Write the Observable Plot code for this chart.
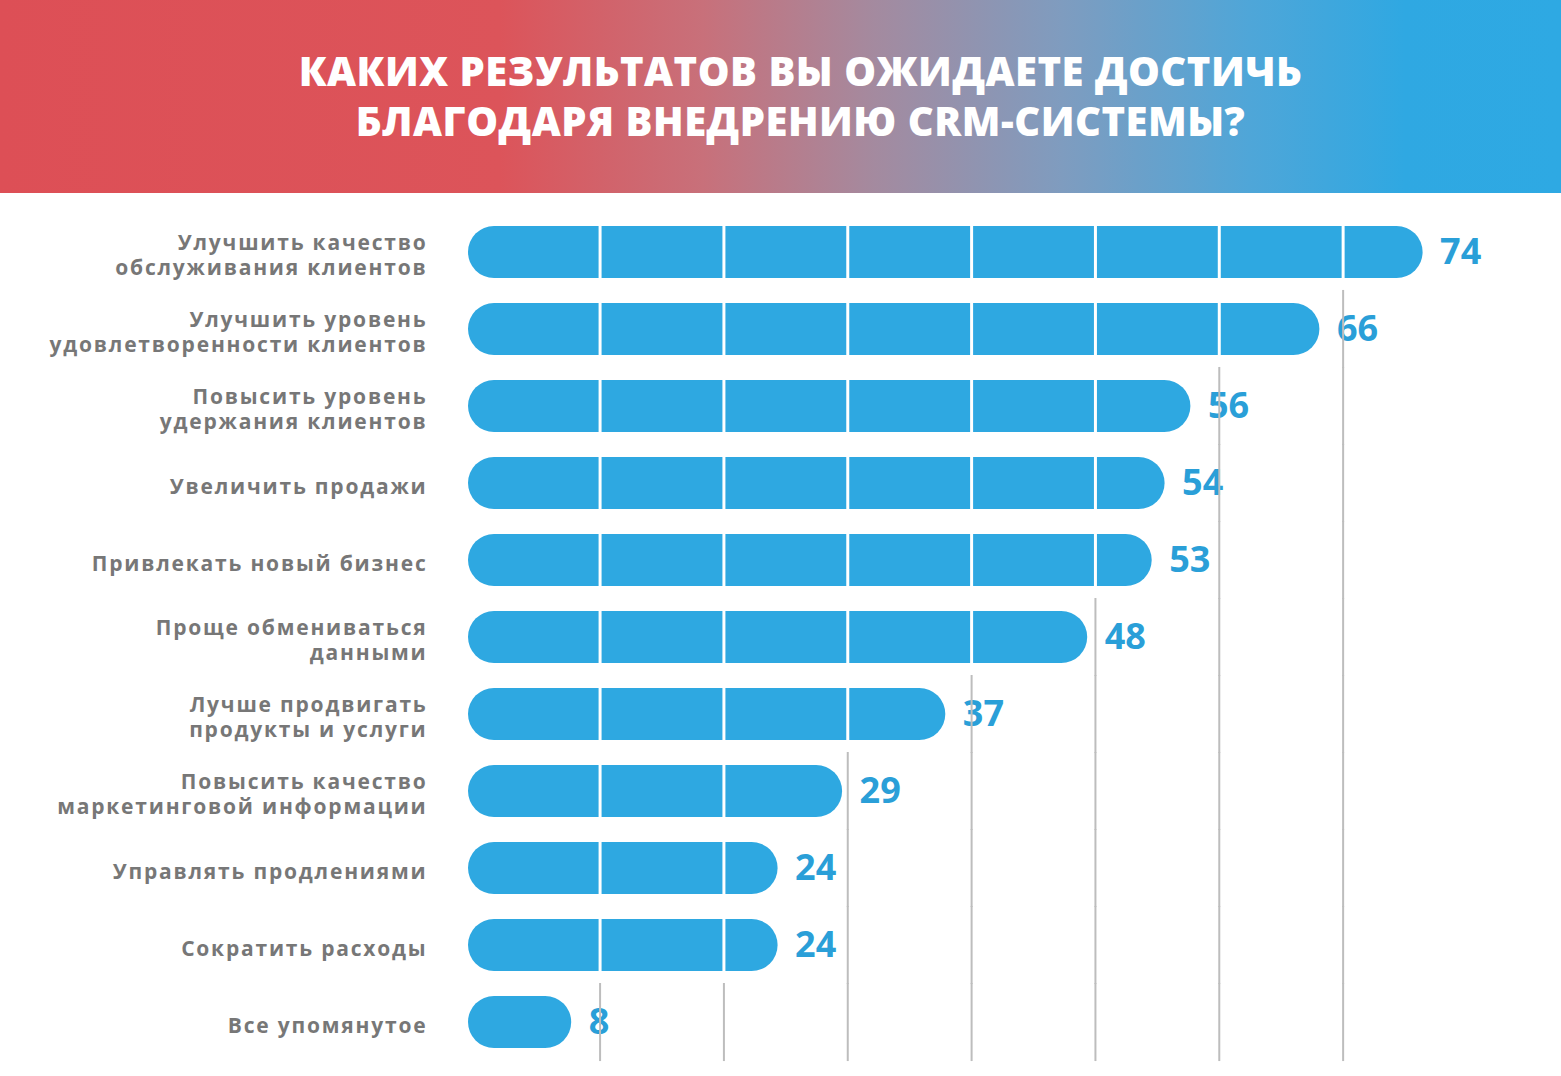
<!DOCTYPE html>
<html>
<head>
<meta charset="utf-8">
<script src="https://cdn.jsdelivr.net/npm/d3@7"></script>
<script src="https://cdn.jsdelivr.net/npm/@observablehq/plot@0.6"></script>
<style>
  html, body { margin: 0; padding: 0; background: #fff; }
  .header {
    width: 1561px; height: 193px;
    background: linear-gradient(90deg, #dd4f56 0%, #dc545a 32%, #c8707a 45%, #a48a9f 56%, #7f9cbf 68%, #4fa6d8 80%, #2fa8e2 90%, #2ea9e3 100%);
    display: flex; align-items: center; justify-content: center;
    color: #fff; font-family: "Open Sans", sans-serif; font-weight: 800;
    font-size: 40px; line-height: 50px; text-align: center; letter-spacing: 0.5px;
    box-sizing: border-box; padding-left: 40px; padding-bottom: 2px;
  }
  #chart svg { display: block; }
</style>
</head>
<body>
<div class="header"><div>КАКИХ РЕЗУЛЬТАТОВ ВЫ ОЖИДАЕТЕ ДОСТИЧЬ<br>БЛАГОДАРЯ ВНЕДРЕНИЮ CRM-СИСТЕМЫ?</div></div>
<div id="chart"></div>
<script>
const categories = [
  "Улучшить качество\nобслуживания клиентов",
  "Улучшить уровень\nудовлетворенности клиентов",
  "Повысить уровень\nудержания клиентов",
  "Увеличить продажи",
  "Привлекать новый бизнес",
  "Проще обмениваться\nданными",
  "Лучше продвигать\nпродукты и услуги",
  "Повысить качество\nмаркетинговой информации",
  "Управлять продлениями",
  "Сократить расходы",
  "Все упомянутое"
];
const values = [74, 66, 56, 54, 53, 48, 37, 29, 24, 24, 8];
const gridTicks = [10.2, 19.8, 29.4, 39, 48.6, 58.2, 67.8];

const rows = categories.map((c, i) => ({cat: c, value: values[i]}));
const cross = rows.flatMap(r => gridTicks.map(t => ({cat: r.cat, value: r.value, tick: t})));

const chart = Plot.plot({
  width: 1561,
  height: 883,
  margin: 0,
  style: {fontFamily: "'Open Sans', sans-serif", background: "#fff"},
  x: {domain: [0, 84], range: [468, 468 + 84 * 12.9], axis: null},
  y: {domain: categories, range: [8, 880], padding: 0.324, round: false, axis: null},
  marks: [
    Plot.barX(rows, {x: "value", y: "cat", fill: "#2ea8e1", rx: 26, ry: 26}),
    Plot.tickX(cross.filter(d => d.value > d.tick), {x: "tick", y: "cat", stroke: "#ffffff", strokeWidth: 3}),
    Plot.text(rows, {x: 0, y: "cat", text: "cat", textAnchor: "end", dx: -41, dy: 2, fill: "#777777", fontSize: 21, fontWeight: "bold", lineHeight: 1.2}),
    Plot.text(rows, {x: "value", y: "cat", text: d => String(d.value), textAnchor: "start", dx: 17, fill: "#2a9fd8", fontSize: 36, fontWeight: "bold"}),
    Plot.tickX(cross.filter(d => d.value < d.tick), {x: "tick", y: "cat", stroke: "#bdbdbd", strokeWidth: 2, insetTop: -13, insetBottom: -13})
  ]
});
d3.select(chart).selectAll("g[aria-label='text']").filter((d, i) => i === 0).style("letter-spacing", "1.8px");
document.getElementById("chart").appendChild(chart);
</script>
</body>
</html>
